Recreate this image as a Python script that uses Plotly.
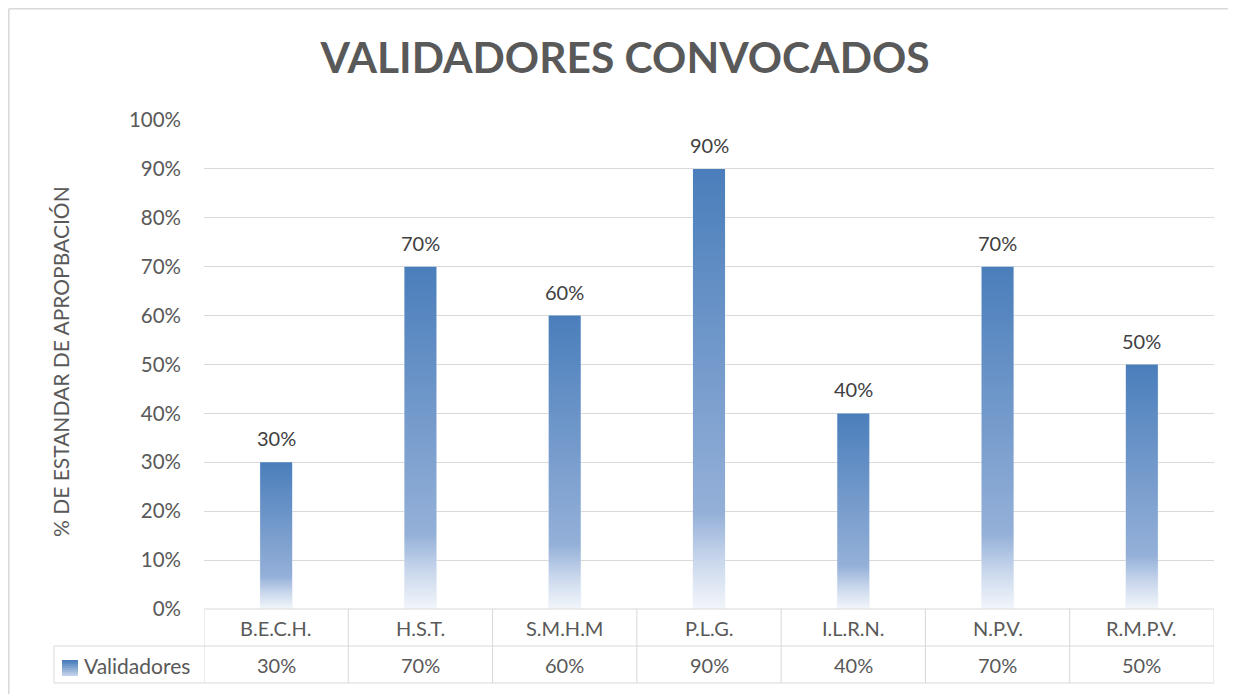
import plotly.graph_objects as go

categories = ["B.E.C.H.", "H.S.T.", "S.M.H.M", "P.L.G.", "I.L.R.N.", "N.P.V.", "R.M.P.V."]
values = [0.30, 0.70, 0.60, 0.90, 0.40, 0.70, 0.50]
series_name = "Validadores"
title_text = "VALIDADORES CONVOCADOS"
y_title = "% DE ESTANDAR DE APROPBACIÓN"

OFF = 8  # page body margin
W, H = 1236 - OFF, 694 - OFF
PL, PR, PT, PB = 204, 1214, 120, 609  # plot area in screen pixels
L, T = PL - OFF, PT - OFF
R, B = W - (PR - OFF), H - (PB - OFF)
PW, PH = PR - PL, PB - PT
FONT = "Lato"
GRID = "#d9d9d9"
TXT = "#595959"
SCALE = [[0.0, "#f3f6fb"], [0.11, "#c9d7ec"], [0.22, "#94b0d8"], [1.0, "#4a7ebb"]]
BW = 0.222

def px_x(p):
    return (p - PL) / PW

def px_y(p):
    return (PB - p) / PH

fig = go.Figure()

# gradient bars
for i, (c, v) in enumerate(zip(categories, values)):
    fig.add_trace(go.Scatter(
        x=[i - BW / 2, i + BW / 2, i + BW / 2, i - BW / 2, i - BW / 2],
        y=[0, 0, v, v, 0],
        mode="lines", line=dict(width=0), fill="toself",
        fillgradient=dict(type="vertical", colorscale=SCALE, start=0, stop=v),
        hoverinfo="skip", showlegend=False,
    ))

# transparent bars carrying the data
fig.add_trace(go.Bar(
    x=list(range(len(categories))), y=values, width=BW, name=series_name,
    marker=dict(color="rgba(0,0,0,0)"), showlegend=False,
    hovertext=categories, hoverinfo="text+y",
))

# data labels
for i, v in enumerate(values):
    fig.add_annotation(x=i, y=v, text=f"{round(v*100)}%", showarrow=False,
                       yanchor="bottom", yshift=10,
                       font=dict(family=FONT, size=20, color="#404040"))

shapes = []
line = dict(color=GRID, width=1)
# data table lines
shapes.append(dict(type="line", xref="x", yref="paper", x0=-0.5, x1=len(categories) - 0.5,
                   y0=0, y1=0, line=line))
for yy in (646, 683):
    shapes.append(dict(type="line", xref="paper", yref="paper", x0=px_x(54), x1=px_x(1214),
                       y0=px_y(yy), y1=px_y(yy), line=line))
for k in range(len(categories) + 1):
    shapes.append(dict(type="line", xref="x", yref="paper", x0=k - 0.5, x1=k - 0.5,
                       y0=0, y1=px_y(683), line=line))
shapes.append(dict(type="line", xref="paper", yref="paper", x0=px_x(54), x1=px_x(54),
                   y0=px_y(646), y1=px_y(683), line=line))
# outer border (top and left edges only are visible)
border = dict(color=GRID, width=1.5)
shapes.append(dict(type="line", xref="paper", yref="paper", x0=px_x(8.8), x1=px_x(1240),
                   y0=px_y(8.8), y1=px_y(8.8), line=border))
shapes.append(dict(type="line", xref="paper", yref="paper", x0=px_x(8.8), x1=px_x(8.8),
                   y0=px_y(8.8), y1=px_y(700), line=border))
# legend key with gradient strips
n = 8
for s in range(n):
    f = s / (n - 1)
    r = int(0x4a + f * (0xc0 - 0x4a)); g = int(0x7e + f * (0xd0 - 0x7e)); b = int(0xbb + f * (0xea - 0xbb))
    y0 = 660 + s * 16 / n
    shapes.append(dict(type="rect", xref="paper", yref="paper", x0=px_x(62), x1=px_x(78),
                       y0=px_y(y0 + 16 / n), y1=px_y(y0), line=dict(width=0),
                       fillcolor=f"rgb({r},{g},{b})"))
fig.update_layout(shapes=shapes)

# table text
for i, (c, v) in enumerate(zip(categories, values)):
    fig.add_annotation(x=i, y=px_y(628), xref="x", yref="paper", text=c, showarrow=False,
                       font=dict(family=FONT, size=20, color=TXT), yanchor="middle")
    fig.add_annotation(x=i, y=px_y(665), xref="x", yref="paper", text=f"{round(v*100)}%",
                       showarrow=False, font=dict(family=FONT, size=20, color=TXT), yanchor="middle")
fig.add_annotation(x=px_x(82), y=px_y(665), xref="paper", yref="paper", text=series_name,
                   showarrow=False, xanchor="left", yanchor="middle",
                   font=dict(family=FONT, size=21, color=TXT))

# y-axis title
fig.add_annotation(x=px_x(60), y=px_y(362), xref="paper", yref="paper", text=y_title,
                   textangle=-90, showarrow=False, xanchor="center", yanchor="middle",
                   font=dict(family=FONT, size=21, color=TXT))

fig.update_layout(
    width=W, height=H, autosize=False,
    margin=dict(l=L, r=R, t=T, b=B, pad=0),
    paper_bgcolor="white", plot_bgcolor="white",
    title=dict(text=f"<b>{title_text}</b>", x=(625 - OFF) / W, xanchor="center",
               y=1 - (58 - OFF) / H, yanchor="middle",
               font=dict(family=FONT, size=42.5, color=TXT)),
    xaxis=dict(range=[-0.5, len(categories) - 0.5], showticklabels=False, showgrid=False,
               zeroline=False, showline=False, fixedrange=True),
    yaxis=dict(range=[0, 1], dtick=0.1, tickformat=".0%", showgrid=True, gridcolor=GRID,
               gridwidth=1, zeroline=False, showline=False, ticks="", ticklabelstandoff=22,
               tickfont=dict(family=FONT, size=20.5, color=TXT), fixedrange=True),
    bargap=0.78, showlegend=False,
)

fig.write_html("out.html", config={"displayModeBar": False},
               post_script="document.documentElement.style.overflow='hidden';document.body.style.overflow='hidden';")
